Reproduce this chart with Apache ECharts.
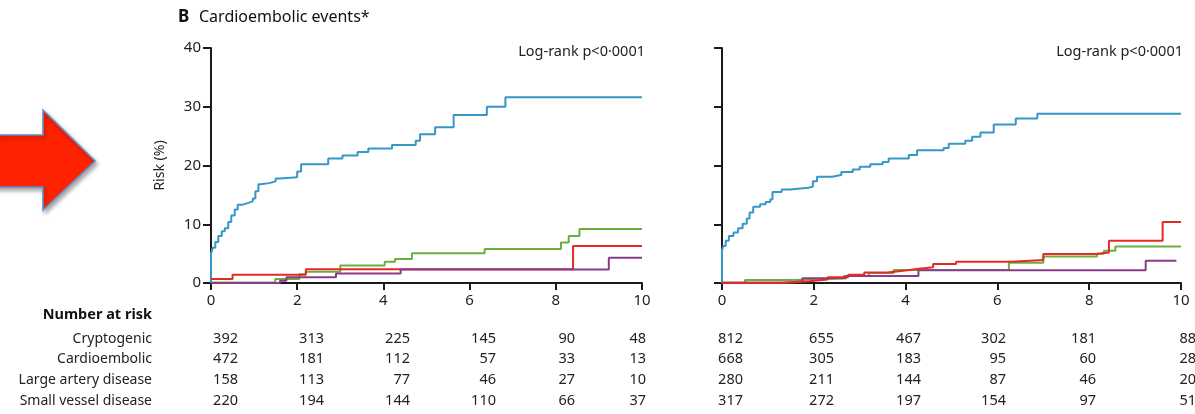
<!DOCTYPE html>
<html><head><meta charset="utf-8">
<script src="https://cdn.jsdelivr.net/npm/echarts@6/dist/echarts.min.js"></script>
<style>html,body{margin:0;padding:0;background:#fff}#c{width:1195px;height:414px}</style>
</head><body><div id="c"></div>
<script>
// ---------- DATA ----------
const timeTicks = [0, 2, 4, 6, 8, 10];
const yTicks = [0, 10, 20, 30, 40];
const groups = ['Cryptogenic', 'Cardioembolic', 'Large artery disease', 'Small vessel disease'];
const pValueText = 'Log-rank p<0·0001';
const titleLetter = 'B';
const titleText = 'Cardioembolic events*';

// numbers at risk (left panel)
const riskLeftCrypto = [392, 313, 225, 145, 90, 48];
const riskLeftCardio = [472, 181, 112, 57, 33, 13];
const riskLeftLarge  = [158, 113, 77, 46, 27, 10];
const riskLeftSmall  = [220, 194, 144, 110, 66, 37];
// numbers at risk (right panel)
const riskRightCrypto = [812, 655, 467, 302, 181, 88];
const riskRightCardio = [668, 305, 183, 95, 60, 28];
const riskRightLarge  = [280, 211, 144, 87, 46, 20];
const riskRightSmall  = [317, 272, 197, 154, 97, 51];

// step curves: [time (years), cumulative risk (%) from that time on]
const leftBlue = [[0,0],[0,5.0],[0.04,6.0],[0.1,7.0],[0.17,8.0],[0.25,8.8],[0.32,9.3],[0.4,10.4],[0.47,11.5],[0.55,12.5],[0.62,13.3],[0.72,13.6],[0.85,13.9],[0.97,14.4],[1.03,15.6],[1.1,16.8],[1.15,17.0],[1.35,17.3],[1.5,17.8],[1.6,18.0],[2.0,19.0],[2.09,20.2],[2.72,21.2],[3.05,21.7],[3.4,22.3],[3.65,22.9],[4.2,23.5],[4.75,24.2],[4.85,25.3],[5.2,26.5],[5.63,28.6],[6.4,30.0],[6.83,31.6],[10,31.6]];
const leftGreen = [[0,0.1],[1.49,0.7],[2.05,1.5],[2.2,1.9],[3.0,3.0],[4.03,3.6],[4.27,4.1],[4.66,5.05],[6.35,5.8],[8.12,6.9],[8.3,8.0],[8.55,9.2],[10,9.2]];
const leftRed = [[0,0.7],[0.5,1.4],[2.2,2.35],[8.4,6.3],[10,6.3]];
const leftPurple = [[0,0],[1.6,0.4],[1.75,1.0],[2.9,1.6],[4.4,2.3],[9.23,4.3],[10,4.3]];

const rightBlue = [[0,0],[0,5.6],[0.03,6.3],[0.08,7.2],[0.15,8.0],[0.25,8.6],[0.35,9.3],[0.45,10.1],[0.54,11.0],[0.6,12.0],[0.68,13.0],[0.83,13.4],[0.95,13.8],[1.05,14.2],[1.1,15.5],[1.3,15.9],[1.48,16.2],[1.88,16.4],[1.98,17.3],[2.07,18.1],[2.4,18.4],[2.6,18.9],[2.85,19.3],[3.0,19.8],[3.23,20.2],[3.5,20.6],[3.63,21.2],[4.07,21.8],[4.25,22.6],[4.83,23.0],[4.94,23.7],[5.3,24.2],[5.45,24.9],[5.63,25.6],[5.92,27.0],[6.4,28.0],[6.87,28.8],[10,28.8]];
const rightGreen = [[0,0],[0.5,0.5],[1.5,0.6],[2.0,0.8],[2.65,1.2],[3.2,1.7],[3.74,2.2],[6.25,3.45],[7.0,4.5],[8.17,5.0],[8.32,5.5],[8.57,6.2],[10,6.2]];
const rightPurple = [[0,0],[1.3,0.3],[1.75,0.8],[2.7,1.2],[4.28,2.15],[9.23,3.8],[9.9,3.8]];
const rightRed = [[0,0.1],[1.5,0.3],[1.9,0.6],[2.3,1.0],[2.75,1.4],[3.1,1.8],[3.6,2.1],[3.95,2.4],[4.25,2.7],[4.6,3.25],[5.1,3.6],[6.3,3.9],[7.0,4.95],[8.15,5.2],[8.43,7.2],[9.6,10.4],[10,10.4]];

// ---------- STYLE / LAYOUT ----------
const C = { blue:'#3497c6', green:'#6cae3e', red:'#e52a24', purple:'#8c3b8c', axis:'#1a1a1a', text:'#222' };
const FONT = '"Noto Sans", "Open Sans", sans-serif';
const colRightLeft = [238, 324, 410, 496, 575, 646];
const colRightRight = [743, 834, 921, 1006, 1096, 1196];
const rowY = [339, 359, 380, 401];
const labelRightX = 152;

const chart = echarts.init(document.getElementById('c'), null, { renderer: 'canvas' });

function xAx(grid){
  return { type:'value', gridIndex:grid, min:0, max:10, interval:2,
    axisLine:{ show:true, lineStyle:{ color:C.axis, width:2 } },
    axisTick:{ show:true, inside:false, length:7, lineStyle:{ color:C.axis, width:2 } },
    axisLabel:{ show:true, margin:10, fontSize:15, color:C.text, fontFamily:FONT, formatter: v => String(v) },
    splitLine:{ show:false } };
}
function yAx(grid, labels){
  return { type:'value', gridIndex:grid, min:0, max:40, interval:10,
    name: labels ? 'Risk (%)' : '', nameLocation:'middle', nameGap:44, nameRotate:90,
    nameTextStyle:{ fontSize:14, color:C.text, fontFamily:FONT },
    axisLine:{ show:true, lineStyle:{ color:C.axis, width:2 } },
    axisTick:{ show:true, inside:false, length:8, lineStyle:{ color:C.axis, width:2 } },
    axisLabel:{ show:labels, margin:10, fontSize:15, color:C.text, fontFamily:FONT },
    splitLine:{ show:false } };
}
function line(data, color, xi, z){
  return { type:'line', step:'end', data, xAxisIndex:xi, yAxisIndex:xi, showSymbol:false, symbol:'none',
    lineStyle:{ color, width:2 }, itemStyle:{ color }, z, animation:false, silent:true };
}

const graphics = [];
// arrow
graphics.push({ type:'polygon', shape:{ points:[[-5,135],[43,135],[43,110],[95,161],[43,210],[43,187],[-5,187]] },
  style:{ fill:'#ff2200', stroke:'#5b8fcc', lineWidth:1.5, shadowBlur:4, shadowOffsetX:2, shadowOffsetY:3, shadowColor:'rgba(0,0,0,0.35)' } });
// title
graphics.push({ type:'text', x:178, y:17, style:{ text:titleLetter, font:'bold 17px '+FONT, fill:'#111', textVerticalAlign:'middle' } });
graphics.push({ type:'text', x:199, y:17, style:{ text:titleText, font:'16px '+FONT, fill:'#111', textVerticalAlign:'middle' } });
// p-values
graphics.push({ type:'text', x:645, y:52, style:{ text:pValueText, font:'14.5px '+FONT, fill:'#222', textAlign:'right', textVerticalAlign:'middle' } });
graphics.push({ type:'text', x:1183, y:52, style:{ text:pValueText, font:'14.5px '+FONT, fill:'#222', textAlign:'right', textVerticalAlign:'middle' } });
// number at risk table
graphics.push({ type:'text', x:labelRightX, y:315, style:{ text:'Number at risk', font:'bold 14.5px '+FONT, fill:'#111', textAlign:'right', textVerticalAlign:'middle' } });
const leftRows = [riskLeftCrypto, riskLeftCardio, riskLeftLarge, riskLeftSmall];
const rightRows = [riskRightCrypto, riskRightCardio, riskRightLarge, riskRightSmall];
groups.forEach((g, i) => {
  graphics.push({ type:'text', x:labelRightX, y:rowY[i], style:{ text:g, font:'14px '+FONT, fill:'#222', textAlign:'right', textVerticalAlign:'middle' } });
  leftRows[i].forEach((v, j) => graphics.push({ type:'text', x:colRightLeft[j], y:rowY[i], style:{ text:String(v), font:'14.5px '+FONT, fill:'#222', textAlign:'right', textVerticalAlign:'middle' } }));
  rightRows[i].forEach((v, j) => graphics.push({ type:'text', x:colRightRight[j], y:rowY[i], style:{ text:String(v), font:'14.5px '+FONT, fill:'#222', textAlign:'right', textVerticalAlign:'middle' } }));
});

chart.setOption({
  animation:false,
  backgroundColor:'#fff',
  textStyle:{ fontFamily:FONT },
  grid:[
    { left:211, width:431, top:48, height:235, containLabel:false, outerBoundsMode:'none' },
    { left:722, width:459, top:48, height:235, containLabel:false, outerBoundsMode:'none' }
  ],
  xAxis:[ xAx(0), xAx(1) ],
  yAxis:[ yAx(0, true), yAx(1, false) ],
  series:[
    line(leftBlue, C.blue, 0, 2), line(leftGreen, C.green, 0, 3), line(leftRed, C.red, 0, 4), line(leftPurple, C.purple, 0, 5),
    line(rightBlue, C.blue, 1, 2), line(rightGreen, C.green, 1, 3), line(rightPurple, C.purple, 1, 4), line(rightRed, C.red, 1, 5)
  ],
  graphic: graphics
});
</script></body></html>
